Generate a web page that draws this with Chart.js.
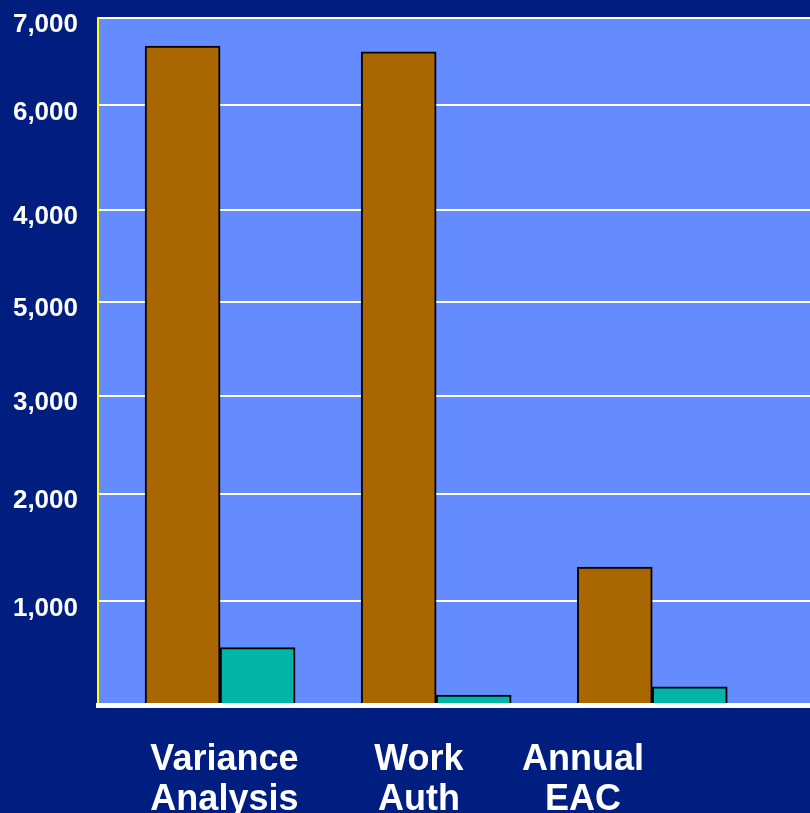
<!DOCTYPE html>
<html>
<head>
<meta charset="utf-8">
<script src="https://cdn.jsdelivr.net/npm/chart.js@4.4.1/dist/chart.umd.min.js"></script>
<style>
  html, body { margin: 0; padding: 0; background: #001e80; }
  #wrap { width: 810px; height: 813px; position: relative; }
</style>
</head>
<body>
<div id="wrap"><canvas id="chart"></canvas></div>
<script>
  // categories (multi-line labels as drawn under each group)
  const categories = [["Variance", "Analysis"], ["Work", "Auth"], ["Annual", "EAC"]];

  // bar values (in the axis' own units)
  const brownValues = [6715, 6655, 1405];
  const tealValues = [585, 100, 185];

  // y tick labels exactly as printed, with the value each sits at
  const yTickLabels = ["1,000", "2,000", "3,000", "5,000", "4,000", "6,000", "7,000"];
  const yTickValues = [1055, 2155, 3150, 4110, 5045, 6110, 7000];

  const plotBackground = {
    id: "plotBackground",
    beforeDraw(chart) {
      const { ctx, chartArea } = chart;
      ctx.save();
      ctx.fillStyle = "#648cff";
      ctx.fillRect(chartArea.left, chartArea.top, chartArea.right - chartArea.left, chartArea.bottom - chartArea.top);
      ctx.restore();
    },
  };

  function toPoints(values) {
    return values.map((v, i) => ({ x: i + 1, y: v }));
  }

  const barStyle = {
    borderColor: "#000000",
    borderWidth: 2,
    borderSkipped: false,
    barThickness: 75,
  };

  new Chart(document.getElementById("chart"), {
    type: "bar",
    data: {
      datasets: [
        { label: "A", data: toPoints(brownValues), backgroundColor: "#aa6600", ...barStyle },
        { label: "B", data: toPoints(tealValues), backgroundColor: "#00b4a6", ...barStyle },
      ],
    },
    options: {
      responsive: true,
      maintainAspectRatio: false,
      animation: false,
      layout: { padding: 0 },
      plugins: {
        legend: { display: false },
        tooltip: { enabled: false },
      },
      scales: {
        x: {
          type: "linear",
          offset: false,
          min: 0.435,
          max: 3.73,
          grid: { display: false, offset: false },
          border: { display: true, color: "#ffffff", width: 5, z: 1 },
          afterBuildTicks: (axis) => {
            // text boxes under the groups sit slightly off the bar centres
            axis.ticks = [1.02, 1.92, 2.68].map((value) => ({ value }));
          },
          afterFit: (axis) => {
            axis.height = 108;
          },
          ticks: {
            autoSkip: false,
            maxRotation: 0,
            padding: 27,
            color: "#ffffff",
            font: { family: "'Liberation Sans', Arial, sans-serif", size: 36, weight: "bold", lineHeight: 1.12 },
            callback: (value, index) => categories[index],
          },
        },
        y: {
          type: "linear",
          min: 0,
          max: 7000,
          grid: { color: "#ffffff", lineWidth: 2, drawTicks: false },
          border: { display: true, color: "#ffff00", width: 2 },
          afterBuildTicks: (axis) => {
            axis.ticks = yTickValues.map((value) => ({ value }));
          },
          afterFit: (axis) => {
            axis.width = 98;
            axis.paddingTop = 18;
            axis.paddingBottom = 0;
          },
          ticks: {
            padding: 20,
            labelOffset: 7,
            color: "#ffffff",
            font: { family: "'Liberation Sans', Arial, sans-serif", size: 26, weight: "bold" },
            callback: (value, index) => yTickLabels[index],
          },
        },
      },
    },
    plugins: [plotBackground],
  });
</script>
</body>
</html>
